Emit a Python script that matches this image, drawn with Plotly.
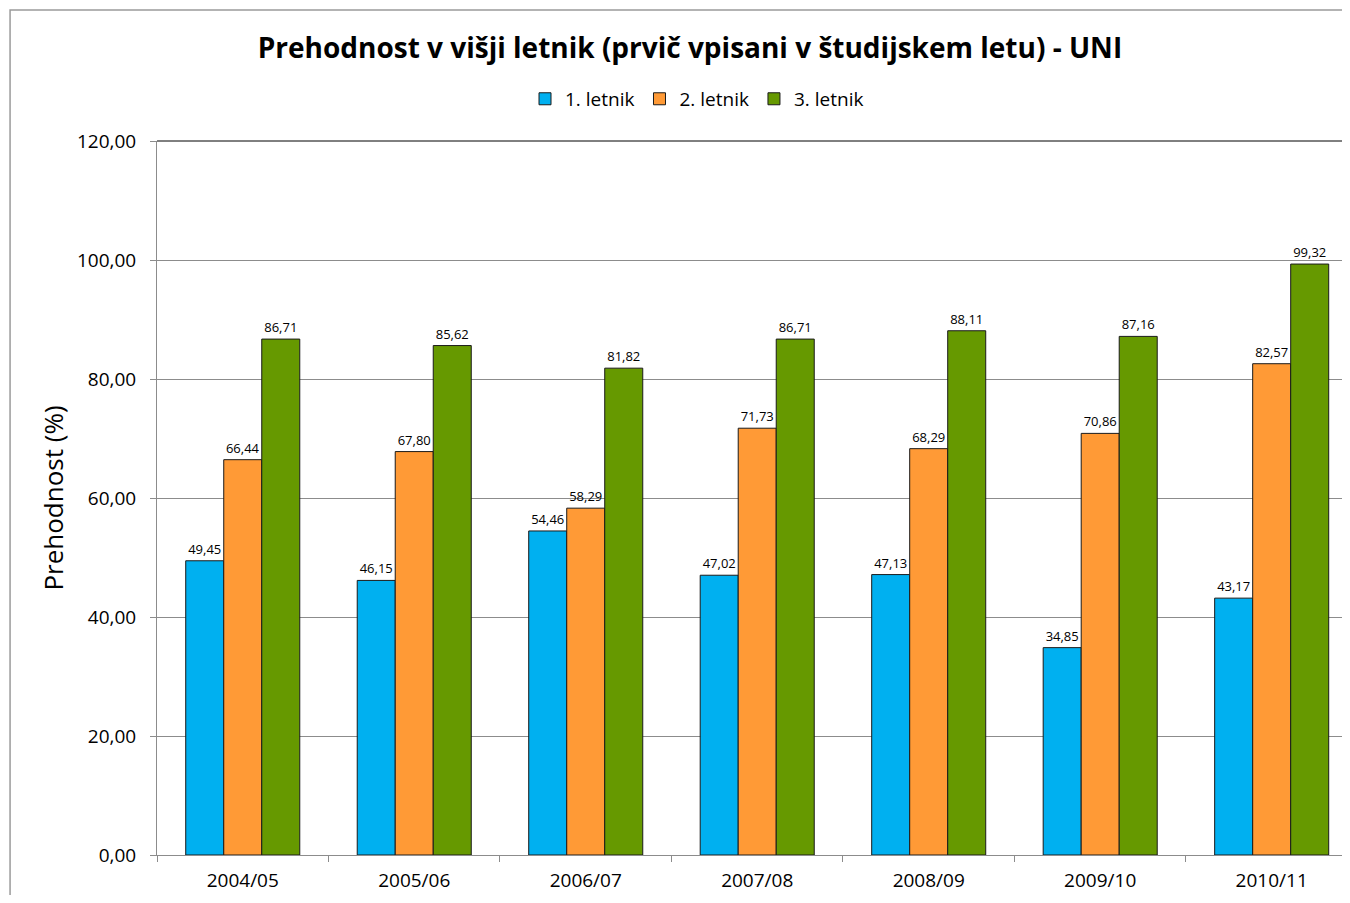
import plotly.graph_objects as go

# Data
years = ["2004/05", "2005/06", "2006/07", "2007/08", "2008/09", "2009/10", "2010/11"]
letnik_1 = [49.45, 46.15, 54.46, 47.02, 47.13, 34.85, 43.17]
letnik_2 = [66.44, 67.80, 58.29, 71.73, 68.29, 70.86, 82.57]
letnik_3 = [86.71, 85.62, 81.82, 86.71, 88.11, 87.16, 99.32]

series = [
    ("1. letnik", letnik_1, "#00B0F0"),
    ("2. letnik", letnik_2, "#FF9A36"),
    ("3. letnik", letnik_3, "#669900"),
]

FONT = "Open Sans"
GRID = "#8c8c8c"

fig = go.Figure()
for name, values, color in series:
    fig.add_trace(go.Bar(
        x=years,
        y=values,
        name=name,
        marker=dict(color=color, line=dict(color="#1a1a1a", width=1)),
        texttemplate="%{y:.2f}",
        textposition="outside",
        textfont=dict(size=13, color="#000000", family=FONT),
        cliponaxis=False,
    ))

# page has an 8px body margin, so the figure is shrunk to fit the window
fig.update_layout(
    width=1334,
    height=887,
    separators=",.",
    barmode="group",
    bargap=0.335,
    bargroupgap=0,
    plot_bgcolor="white",
    paper_bgcolor="white",
    font=dict(family=FONT, color="#000000"),
    margin=dict(l=149, r=0, t=133, b=40),
    title=dict(
        text="<b>Prehodnost v višji letnik (prvič vpisani v študijskem letu) - UNI</b>",
        x=0.5112, xanchor="center", xref="container",
        y=0.955, yanchor="middle",
        font=dict(size=28, family=FONT, color="#000000"),
    ),
    legend=dict(
        orientation="h",
        x=0.5165, xanchor="center", xref="container",
        y=0.8975, yanchor="middle", yref="container",
        font=dict(size=19, family=FONT),
        itemwidth=30,
        traceorder="normal",
    ),
    xaxis=dict(
        range=[-0.5, 6.41],
        showline=True, linecolor=GRID, linewidth=1,
        ticks="outside", tickson="boundaries", ticklen=6, tickcolor=GRID,
        tickfont=dict(size=19, family=FONT),
        ticklabelstandoff=8,
        showgrid=False,
    ),
    yaxis=dict(
        title=dict(text="Prehodnost (%)", font=dict(size=26, family=FONT), standoff=5),
        range=[0, 120],
        dtick=20,
        tickformat=".2f",
        showline=True, linecolor=GRID, linewidth=1,
        ticks="outside", ticklen=6, tickcolor=GRID,
        tickfont=dict(size=19, family=FONT),
        ticklabelstandoff=10,
        showgrid=True, gridcolor=GRID, gridwidth=1,
        zeroline=False,
    ),
    shapes=[
        # top border of the plot area
        dict(type="line", xref="paper", yref="paper", x0=0, x1=1, y0=1, y1=1,
             line=dict(color="#000000", width=1)),
        # outer chart border
        dict(type="rect", xref="paper", yref="paper",
             x0=-0.124, x1=1.05, y0=-0.3, y1=1.1835,
             line=dict(color="#9a9a9a", width=1.5), layer="below"),
    ],
)

fig.write_html("out.html")
